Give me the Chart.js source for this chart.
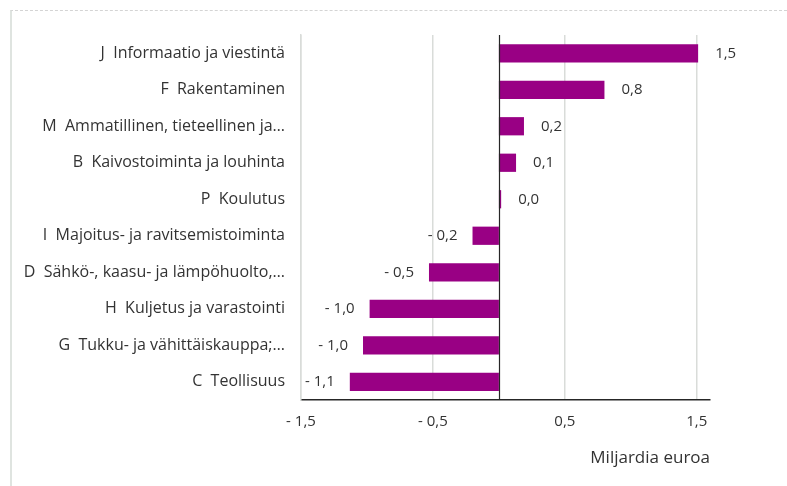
<!DOCTYPE html>
<html>
<head>
<meta charset="utf-8">
<script src="https://cdn.jsdelivr.net/npm/chart.js@4.4.1/dist/chart.umd.min.js"></script>
<style>
    body { margin: 0; background: #fff; }
    #wrap { position: relative; width: 787px; height: 486px; }
    #frame {
        position: absolute; left: 10px; top: 10px; right: 0; bottom: 0;
        border-left: 2px solid #dfe4e0; border-top: 1px dashed #d4d4d4;
        pointer-events: none;
    }
</style>
</head>
<body>
<div id="wrap">
    <canvas id="chart" width="787" height="486"></canvas>
    <div id="frame"></div>
</div>
<script>
const categories = [
    'J  Informaatio ja viestintä',
    'F  Rakentaminen',
    'M  Ammatillinen, tieteellinen ja…',
    'B  Kaivostoiminta ja louhinta',
    'P  Koulutus',
    'I  Majoitus- ja ravitsemistoiminta',
    'D  Sähkö-, kaasu- ja lämpöhuolto,…',
    'H  Kuljetus ja varastointi',
    'G  Tukku- ja vähittäiskauppa;…',
    'C  Teollisuus',
];
const values = [1.51, 0.80, 0.19, 0.13, 0.017, -0.20, -0.53, -0.98, -1.03, -1.13];
const xTickValues = [-1.5, -0.5, 0.5, 1.5];
const xTickLabels = ['- 1,5', '- 0,5', '0,5', '1,5'];

const textColor = '#333333';
const fontFamily = '"Open Sans", Lato, sans-serif';

function formatValue(v) {
    const s = Math.abs(v).toFixed(1).replace('.', ',');
    return v < 0 && s !== '0,0' ? '- ' + s : s;
}

// zero line and value labels next to the bars
const extras = {
    id: 'extras',
    afterDatasetsDraw(chart) {
        const ctx = chart.ctx;
        const area = chart.chartArea;
        const zx = Math.round(chart.scales.x.getPixelForValue(0)) + 0.5;
        ctx.save();
        ctx.strokeStyle = '#262626';
        ctx.lineWidth = 1.2;
        ctx.beginPath();
        ctx.moveTo(zx, area.top);
        ctx.lineTo(zx, area.bottom);
        ctx.stroke();

        ctx.fillStyle = textColor;
        ctx.font = '15px ' + fontFamily;
        ctx.textBaseline = 'middle';
        chart.getDatasetMeta(0).data.forEach((bar, i) => {
            const v = values[i];
            if (v >= 0) {
                ctx.textAlign = 'left';
                ctx.fillText(formatValue(v), bar.x + 17, bar.y);
            } else {
                ctx.textAlign = 'right';
                ctx.fillText(formatValue(v), bar.x - 15, bar.y);
            }
        });
        ctx.restore();
    }
};

new Chart(document.getElementById('chart').getContext('2d'), {
    type: 'bar',
    data: {
        labels: categories,
        datasets: [{
            data: values,
            backgroundColor: '#990084',
            categoryPercentage: 1,
            barPercentage: 0.5,
        }],
    },
    options: {
        indexAxis: 'y',
        responsive: false,
        animation: false,
        layout: { padding: { left: 0, top: 35, right: 77, bottom: 0 } },
        plugins: {
            legend: { display: false },
            tooltip: { enabled: false },
        },
        scales: {
            x: {
                min: -1.5,
                max: 1.6,
                afterBuildTicks(scale) {
                    scale.ticks = xTickValues.map(v => ({ value: v }));
                },
                afterFit(scale) { scale.height = 86; },
                grid: { color: '#d9dcd9', lineWidth: 1.5, drawTicks: false },
                border: { color: '#262626', width: 1.5 },
                ticks: {
                    padding: 13,
                    color: textColor,
                    font: { family: fontFamily, size: 15 },
                    callback: (value, index) => xTickLabels[index],
                },
                title: {
                    display: true,
                    text: 'Miljardia euroa',
                    align: 'end',
                    color: textColor,
                    font: { family: fontFamily, size: 17 },
                    padding: { top: 4, bottom: 18 },
                },
            },
            y: {
                afterFit(scale) { scale.width = 301; },
                grid: { display: false, drawTicks: false },
                border: { color: '#d9dcd9', width: 1.5 },
                ticks: {
                    padding: 16,
                    color: textColor,
                    font: { family: fontFamily, size: 16 },
                },
            },
        },
    },
    plugins: [extras],
});
</script>
</body>
</html>
